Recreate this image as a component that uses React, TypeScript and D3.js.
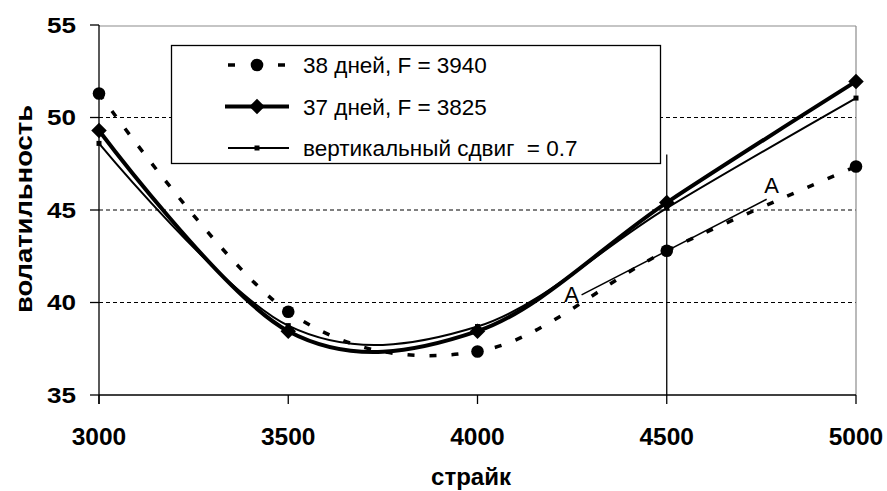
import React from 'react';
import * as d3 from 'd3';

const strikes = [3000, 3500, 4000, 4500, 5000];
const vol38 = [51.3, 39.5, 37.35, 42.8, 47.35];
const vol37 = [49.3, 38.45, 38.45, 45.4, 51.95];
const volShift = [48.6, 38.75, 38.7, 45.1, 51.05];
const seriesLabels = ['38 дней, F = 3940', '37 дней, F = 3825', 'вертикальный сдвиг  = 0.7'];
const xTicks = [3000, 3500, 4000, 4500, 5000];
const yTicks = [35, 40, 45, 50, 55];
const gridValues = [40, 45, 50];
const tangentX = [4275, 4764];
const tangentY = [40.41, 45.58];
const tangentLabels = ['A', 'A'];
const markerStrike = 4500;
const markerTop = 48;
const xTitle = 'страйк';
const yTitle = 'волатильность';

const W = 887;
const H = 491;
const FONT = 'Liberation Sans, Arial, sans-serif';

export default function App() {
  const x = d3.scaleLinear().domain([3000, 5000]).range([99, 856]);
  const y = d3.scaleLinear().domain([35, 55]).range([395, 25]);
  const curve = d3.curveCardinal.tension(0);
  const mk = (vals: number[]) =>
    d3
      .line<number>()
      .x((_, i) => x(strikes[i]))
      .y((v) => y(v))
      .curve(curve)(vals) as string;

  const diamond = d3.symbol().type(d3.symbolSquare).size(120)() as string;

  const [x0, x1] = x.range();
  const [yb, yt] = y.range();

  const legendRows = [72.5, 114.5, 155.5];

  return (
    <svg width={W} height={H} style={{ position: 'absolute', left: 0, top: 0, background: '#fff' }}>
      <rect x={0} y={0} width={W} height={H} fill="#fff" />
      {/* grid */}
      {gridValues.map((g) => (
        <line key={g} x1={x0} x2={x1} y1={y(g)} y2={y(g)} stroke="#000" strokeWidth={1} strokeDasharray="4,3" />
      ))}
      {/* plot frame (gray top/right) */}
      <line x1={x0} x2={x1} y1={yt + 1} y2={yt + 1} stroke="#8c8c8c" strokeWidth={1.2} />
      <line x1={x1} x2={x1} y1={yt + 1} y2={yb} stroke="#8c8c8c" strokeWidth={1.2} />
      {/* axes */}
      <line x1={x0} x2={x0} y1={yt} y2={yb + 9} stroke="#000" strokeWidth={1.3} />
      <line x1={x0} x2={x1} y1={yb} y2={yb} stroke="#000" strokeWidth={1.3} />
      {yTicks.map((t) => (
        <g key={t}>
          <line x1={x0 - 9} x2={x0} y1={y(t)} y2={y(t)} stroke="#000" strokeWidth={1.3} />
          <text
            x={76}
            y={y(t) + 7.8}
            textAnchor="end"
            fontFamily={FONT}
            fontWeight="bold"
            fontSize={22}
            textLength={29}
            lengthAdjust="spacingAndGlyphs"
            fill="#000"
          >
            {t}
          </text>
        </g>
      ))}
      {xTicks.map((t) => (
        <g key={t}>
          <line x1={x(t)} x2={x(t)} y1={yb} y2={yb + 9} stroke="#000" strokeWidth={1.3} />
          <text
            x={x(t)}
            y={445}
            textAnchor="middle"
            fontFamily={FONT}
            fontWeight="bold"
            fontSize={24.5}
            fill="#000"
          >
            {t}
          </text>
        </g>
      ))}
      <text x={471} y={485} textAnchor="middle" fontFamily={FONT} fontWeight="bold" fontSize={24} fill="#000">
        {xTitle}
      </text>
      <text
        transform={`translate(32,209) rotate(-90)`}
        textAnchor="middle"
        fontFamily={FONT}
        fontWeight="bold"
        fontSize={24}
        textLength={208}
        lengthAdjust="spacingAndGlyphs"
        fill="#000"
      >
        {yTitle}
      </text>
      {/* vertical marker line */}
      <line x1={x(markerStrike)} x2={x(markerStrike)} y1={y(markerTop)} y2={yb} stroke="#000" strokeWidth={1.3} />
      {/* tangent A-A */}
      <line
        x1={x(tangentX[0])}
        y1={y(tangentY[0])}
        x2={x(tangentX[1])}
        y2={y(tangentY[1])}
        stroke="#000"
        strokeWidth={1.5}
      />
      <text x={x(tangentX[0]) - 10} y={y(tangentY[0]) + 7} textAnchor="middle" fontFamily={FONT} fontSize={22} fill="#000">
        {tangentLabels[0]}
      </text>
      <text x={x(tangentX[1]) + 5} y={y(tangentY[1]) - 6} textAnchor="middle" fontFamily={FONT} fontSize={22} fill="#000">
        {tangentLabels[1]}
      </text>
      {/* series */}
      <path d={mk(vol38)} fill="none" stroke="#000" strokeWidth={3.5} strokeDasharray="7,15" />
      <path d={mk(volShift)} fill="none" stroke="#000" strokeWidth={2} />
      <path d={mk(vol37)} fill="none" stroke="#000" strokeWidth={4} />
      {strikes.map((s, i) => (
        <g key={s}>
          <circle cx={x(s)} cy={y(vol38[i])} r={6.3} fill="#000" />
          <rect x={x(s) - 2.5} y={y(volShift[i]) - 2.5} width={5} height={5} fill="#000" />
          <path d={diamond} transform={`translate(${x(s)},${y(vol37[i])}) rotate(45)`} fill="#000" />
        </g>
      ))}
      {/* legend */}
      <rect x={171.5} y={45.5} width={489} height={118} fill="#fff" stroke="#000" strokeWidth={1.3} />
      <line x1={228} x2={235} y1={65} y2={65} stroke="#000" strokeWidth={3.5} />
      <line x1={278} x2={285} y1={65} y2={65} stroke="#000" strokeWidth={3.5} />
      <circle cx={257} cy={65} r={6.3} fill="#000" />
      <line x1={225} x2={289} y1={106.5} y2={106.5} stroke="#000" strokeWidth={4} />
      <path d={diamond} transform={`translate(257,106.5) rotate(45)`} fill="#000" />
      <line x1={228} x2={289} y1={148} y2={148} stroke="#000" strokeWidth={2} />
      <rect x={254.5} y={145.5} width={5} height={5} fill="#000" />
      {seriesLabels.map((lab, i) => (
        <text
          key={lab}
          x={303}
          y={legendRows[i]}
          fontFamily={FONT}
          fontSize={22.5}
          fill="#000"
          style={{ whiteSpace: 'pre' }}
        >
          {lab}
        </text>
      ))}
    </svg>
  );
}
